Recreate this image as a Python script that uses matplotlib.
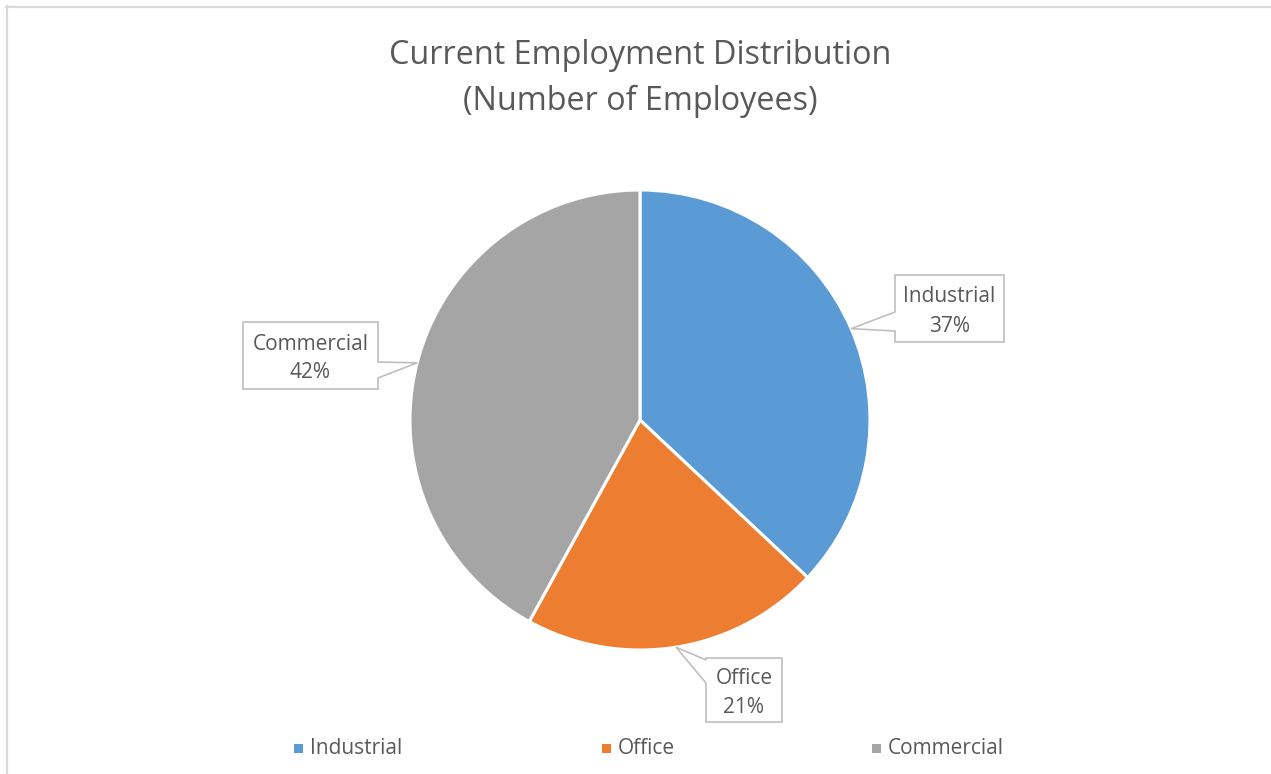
import matplotlib
matplotlib.use('Agg')
import matplotlib.pyplot as plt
from matplotlib.patches import Polygon, Rectangle
from matplotlib.lines import Line2D
import numpy as np

# ---- data ----
categories = ['Industrial', 'Office', 'Commercial']
shares = [37, 21, 42]
colors = ['#5B9BD5', '#ED7D31', '#A5A5A5']
title_lines = ['Current Employment Distribution', '(Number of Employees)']

TXT = '#595959'
FONT = ['Open Sans', 'DejaVu Sans']
plt.rcParams['font.family'] = FONT

W, H = 1271, 774
fig = plt.figure(figsize=(W / 100, H / 100), dpi=100)
ax = fig.add_axes([0, 0, 1, 1])

center = (640, 420)
radius = 230
wedges, _ = ax.pie(shares, colors=colors, startangle=-90, counterclock=True,
                   center=center, radius=radius,
                   wedgeprops=dict(edgecolor='white', linewidth=2.2))
ax.set_xlim(0, W)
ax.set_ylim(H, 0)
ax.set_axis_off()

# chart border (top and left visible)
ax.add_line(Line2D([6.5, 6.5], [6, H], color='#d9d9d9', lw=1.6))
ax.add_line(Line2D([6, W], [6.5, 6.5], color='#d9d9d9', lw=1.6))

# title
ax.text(640, 55, title_lines[0], ha='center', va='center', fontsize=23.3, color=TXT)
ax.text(640, 101, title_lines[1], ha='center', va='center', fontsize=23.3, color=TXT)

# callout layout (box x0, y0, x1, y1, side, base range)
layout = {
    'Industrial': dict(box=(895, 275, 1004, 342), side='left', base=(312, 331)),
    'Office': dict(box=(706, 658, 782, 722), side='left', base=(660, 683)),
    'Commercial': dict(box=(243, 322, 378, 389), side='right', base=(362, 378)),
}

for w, cat, val in zip(wedges, categories, shares):
    mid = np.deg2rad((w.theta1 + w.theta2) / 2)
    tip = (center[0] + radius * np.cos(mid), center[1] + radius * np.sin(mid))
    L = layout[cat]
    x0, y0, x1, y1 = L['box']
    b0, b1 = L['base']
    if L['side'] == 'left':
        pts = [(x0, y0), (x1, y0), (x1, y1), (x0, y1), (x0, b1), tip, (x0, b0)]
    else:
        pts = [(x0, y0), (x1, y0), (x1, b0), tip, (x1, b1), (x1, y1), (x0, y1)]
    ax.add_patch(Polygon(pts, closed=True, facecolor='white', edgecolor='#bfbfbf',
                         lw=1.2, zorder=5))
    ax.text((x0 + x1) / 2, (y0 + y1) / 2 + 3, f'{cat}\n{val}%', ha='center', va='center',
            fontsize=15, color=TXT, linespacing=1.5, zorder=6)

# legend
leg_x = [298, 606, 876]
for x, cat, c in zip(leg_x, categories, colors):
    ax.add_patch(Rectangle((x - 4.5, 748 - 4.5), 9, 9, facecolor=c, edgecolor='none'))
    ax.text(x + 12, 749, cat, ha='left', va='center', fontsize=15, color=TXT)

fig.savefig('out.png', dpi=100, facecolor='white')
